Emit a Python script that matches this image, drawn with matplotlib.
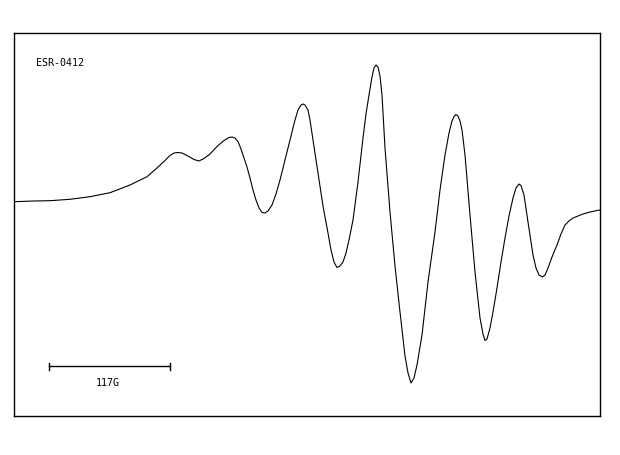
import matplotlib
matplotlib.use("Agg")
import matplotlib.pyplot as plt

# ESR spectrum: field offset (G-like units) vs derivative signal (arb. units)
field = [1, 19, 36, 56, 76, 96, 116, 133, 143, 151, 156, 160, 164, 168, 174,
         180, 185, 190, 196, 203, 210, 215, 218, 221, 224, 227, 230, 233, 236,
         239, 242, 245, 248, 251, 254, 258, 262, 266, 270, 274, 278, 281, 284,
         287, 289, 291, 294, 296, 299, 304, 309, 314, 317, 320, 323, 326, 329,
         332, 335, 339, 344, 349, 352, 355, 358, 360, 362, 364, 366, 368, 371,
         376, 381, 386, 391, 394, 397, 400, 403, 408, 414, 421, 426, 431, 435,
         438, 440, 442, 444, 446, 448, 451, 456, 461, 466, 469, 471, 473, 476,
         479, 483, 487, 491, 495, 499, 502, 505, 507, 510, 514, 519, 522, 525,
         528.5, 531, 534, 538, 543, 547, 551, 555, 559, 564, 569, 576, 583, 586]
signal = [-0.7, 0, 0.3, 1.7, 4.3, 8.3, 16, 24.3, 33, 40.5, 45.5, 48, 48.5, 48,
          45, 41.5, 40, 42.5, 47, 54.5, 60.5, 63.5, 64, 63, 59.5, 52, 43, 34,
          23, 11, 1, -7, -11.5, -12, -10, -4, 7, 21, 37, 53, 69, 81, 91, 96,
          97, 96, 91, 81, 61, 28, -5, -32, -49, -61, -66.5, -65, -61, -52, -39,
          -19, 19, 63, 87, 106, 124, 133, 136, 134, 125, 106, 53, -11, -65,
          -111, -155, -172, -182, -177, -164, -134, -81, -31, 11, 46, 68, 80,
          84.5, 86.5, 85, 80, 71, 46, -14, -71, -117, -133, -139.5, -138, -127,
          -111, -87, -61, -37, -15, 3, 13, 17, 15.5, 6, -21, -54, -67, -74, -76,
          -74, -67, -56, -44, -33, -24, -20, -17, -15, -13, -11, -9.5, -9]

sample_label = "ESR-0412"
scale_label = "117G"
scale_start, scale_end, scale_level = 35, 156, -165

fig = plt.figure(figsize=(6.2, 4.55), dpi=100)
ax = fig.add_axes([14/620, 1 - 416/455, 586/620, 383/455])
ax.plot(field, signal, color="black", lw=0.8)

ax.set_xlim(0, 586)
ax.set_ylim(-215, 168)
ax.set_xticks([])
ax.set_yticks([])
for s in ax.spines.values():
    s.set_linewidth(1.0)
    s.set_color("black")

# scale bar
ax.plot([scale_start, scale_end], [scale_level, scale_level], color="black", lw=1.0)
for xe in (scale_start, scale_end):
    ax.plot([xe, xe], [scale_level - 3.5, scale_level + 3.5], color="black", lw=1.0)
ax.text((scale_start + scale_end) / 2 - 2, scale_level - 16.5, scale_label,
        ha="center", va="center", family="DejaVu Sans Mono", fontsize=7.2)

ax.text(22, 137.7, sample_label, ha="left", va="center",
        family="DejaVu Sans Mono", fontsize=7.2)

fig.savefig("out.png", dpi=100)
